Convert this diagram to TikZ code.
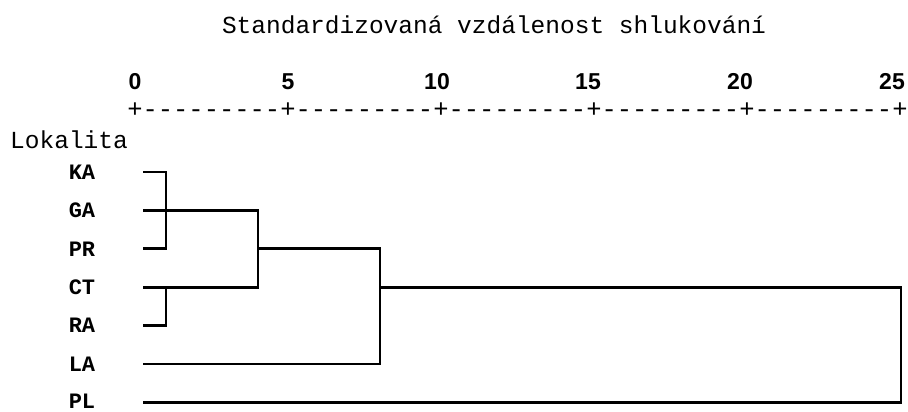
\documentclass[tikz,border=0pt]{standalone}
\usepackage{fontspec}
\setmainfont{Liberation Serif}
\setmonofont{Liberation Mono}
\newfontfamily\numfont{Liberation Sans}
\begin{document}
\begin{tikzpicture}[x=1pt,y=-1pt]
\tikzset{
  titletext/.style={font=\ttfamily\fontsize{24.5}{28}\selectfont, inner sep=0pt},
  axistext/.style={font=\ttfamily\fontsize{25.5}{30}\selectfont, inner sep=0pt},
  numtext/.style={font=\numfont\bfseries\fontsize{23}{26}\selectfont, inner sep=0pt},
  leaftext/.style={font=\ttfamily\bfseries\fontsize{22}{26}\selectfont, inner sep=0pt},
  dendro/.style={line width=2.7pt, line join=miter, line cap=butt}
}
\useasboundingbox (0,0) rectangle (908,412);

% title and scale
\node[titletext] (title) at (494,25) {Standardizovaná vzdálenost shlukování};
\node[numtext] (n0)  at (135,82) {0};
\node[numtext] (n5)  at (288,82) {5};
\node[numtext] (n10) at (437,82) {10};
\node[numtext] (n15) at (588,82) {15};
\node[numtext] (n20) at (740,82) {20};
\node[numtext] (n25) at (892,82) {25};
\node[axistext] (axis) at (517.5,110) {+---------+---------+---------+---------+---------+};

\node[titletext, anchor=west] (lok) at (10,140) {Lokalita};

% leaf labels
\node[leaftext] (KA) at (82,172)   {KA};
\node[leaftext] (GA) at (82,210.4) {GA};
\node[leaftext] (PR) at (82,248.8) {PR};
\node[leaftext] (CT) at (82,287.2) {CT};
\node[leaftext] (RA) at (82,325.6) {RA};
\node[leaftext] (LA) at (82,364)   {LA};
\node[leaftext] (PL) at (82,401.6) {PL};

% leaf starts
\coordinate (ka) at (143,172);
\coordinate (ga) at (143,210.4);
\coordinate (pr) at (143,248.8);
\coordinate (ct) at (143,287.2);
\coordinate (ra) at (143,325.6);
\coordinate (la) at (143,364);
\coordinate (pl) at (143,402.4);

% merge heights
\coordinate (m1) at (166,0);
\coordinate (m2) at (258,0);
\coordinate (m3) at (380,0);
\coordinate (m4) at (901,0);

% cluster KA-GA-PR
\draw[dendro] (ka) -- (ka -| m1) -- (pr -| m1) -- (pr);
% cluster CT-RA
\draw[dendro] (ct -| m1) -- (ra -| m1) -- (ra);
% join at m2
\draw[dendro] (ga) -- (ga -| m2) -- (ct -| m2) -- (ct);
% join with LA at m3
\draw[dendro] (pr -| m2) -- (pr -| m3) -- (la -| m3) -- (la);
% join with PL at m4
\draw[dendro] (ct -| m3) -- (ct -| m4) -- (pl -| m4) -- (pl);
\end{tikzpicture}
\end{document}
